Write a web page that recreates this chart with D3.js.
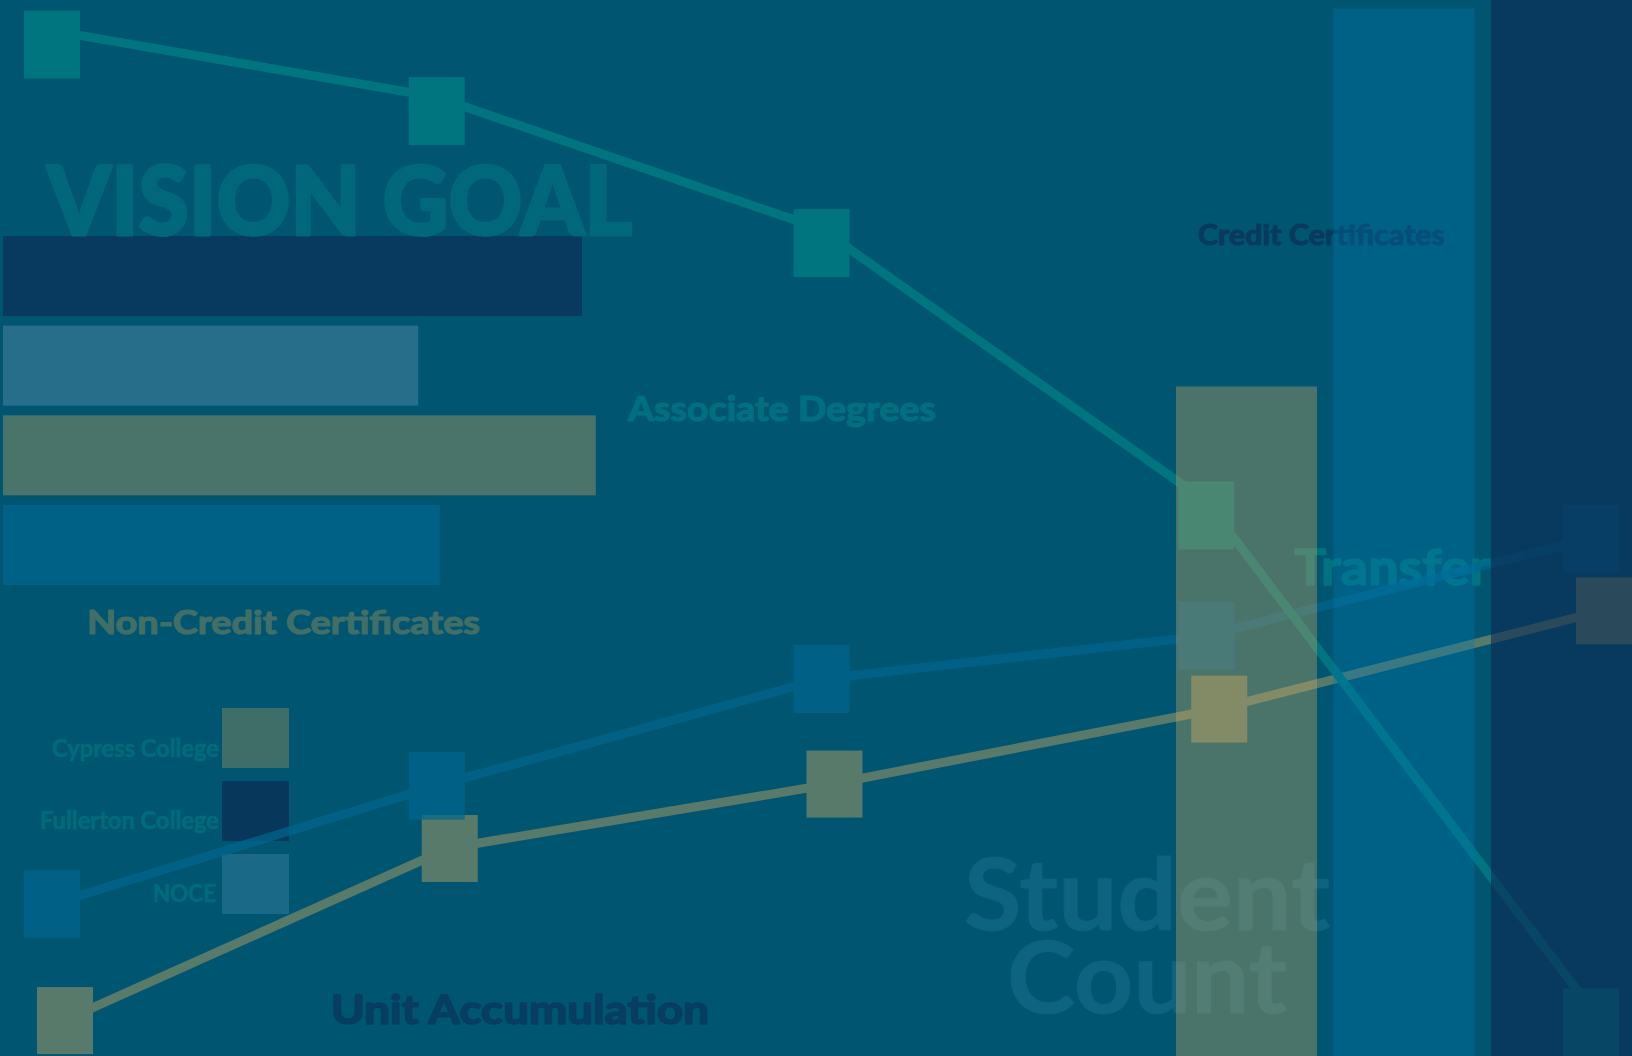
<!DOCTYPE html>
<html><head><meta charset="utf-8">
<script src="https://cdn.jsdelivr.net/npm/d3@7/dist/d3.min.js"></script>
<style>html,body{margin:0;padding:0;background:#005570;overflow:hidden}svg{display:block}</style>
</head><body>
<svg id="chart" width="1632" height="1056"></svg>
<script>
// ---------- DATA ----------
const barCategories = ["Fullerton College", "NOCE", "Cypress College", "District"];
const barValues = [96.5, 69.2, 98.8, 72.8];

const columnCategories = ["Cypress College", "District", "Fullerton College"];
const columnValues = [63.4, 99.2, 100];

const pointCategories = ["P1", "P2", "P3", "P4", "P5"];
const tealValues = [97.1, 90.8, 78.3, 52.5, 4.5];
const blueValues = [14.4, 25.6, 35.7, 39.8, 49.0];
const sageValues = [3.4, 19.7, 25.8, 32.9, 42.2];

const legendLabels = ["Cypress College", "Fullerton College", "NOCE"];

const titleText = "VISION GOAL";
const annotationTexts = ["Associate Degrees", "Credit Certificates", "Transfer",
  "Non-Credit Certificates", "Unit Accumulation"];
const bigTextLines = ["Student", "Count"];

// ---------- SETUP ----------
const W = 1632, H = 1056;
const svg = d3.select("#chart");
const FONT = "Lato, 'Open Sans', 'DejaVu Sans', sans-serif";

svg.append("rect").attr("width", W).attr("height", H).attr("fill", "#005570");

// Horizontal bars
const hx = d3.scaleLinear().domain([0, 100]).range([3, 603]);
const hy = d3.scaleBand().domain(barCategories).range([236, 585]).paddingInner(0.108).paddingOuter(0);
const barColors = ["#073A5E", "#276E8A", "#4A746A", "#006186"];
svg.append("g").selectAll("rect").data(barValues).join("rect")
  .attr("x", hx(0))
  .attr("y", (d, i) => hy(barCategories[i]))
  .attr("width", d => hx(d) - hx(0))
  .attr("height", hy.bandwidth())
  .attr("fill", (d, i) => barColors[i]);

// Text helper
function label(g, txt, x, y, size, fill, len, anchor, weight, sw) {
  const t = g.append("text").attr("x", x).attr("y", y)
    .attr("font-family", FONT).attr("font-size", size)
    .attr("font-weight", weight || 700).attr("fill", fill)
    .attr("text-anchor", anchor || "start").text(txt);
  if (sw) t.attr("stroke", fill).attr("stroke-width", sw).attr("stroke-linejoin", "round");
  if (len) t.attr("textLength", len).attr("lengthAdjust", "spacingAndGlyphs");
  return t;
}
const tg = svg.append("g");
label(tg, titleText, 47, 235, 95, "#00687A", 585, "start", 900, 3);
label(tg, annotationTexts[0], 628, 421, 35, "#006F80", 308, "start", 700, 1.2);
label(tg, annotationTexts[1], 1198, 245, 28, "#083A5E", 247, "start", 700, 1);
label(tg, annotationTexts[2], 1294, 585, 50, "#00737F", 196, "start", 700, 1.5);
label(tg, annotationTexts[3], 87, 634, 33, "#416F68", 393, "start", 700, 1.2);
label(tg, annotationTexts[4], 331, 1024, 40, "#063D60", 378, "start", 700, 1.5);

// Two-line "Student Count" as one text element
const big = tg.append("text")
  .attr("font-family", FONT).attr("font-size", 100).attr("font-weight", 700)
  .attr("fill", "#0D6480").attr("stroke", "#0D6480").attr("stroke-width", 1);
big.append("tspan").attr("x", 964).attr("y", 930)
  .attr("textLength", 366).attr("lengthAdjust", "spacingAndGlyphs").text(bigTextLines[0]);
big.append("tspan").attr("x", 1007).attr("y", 1013)
  .attr("textLength", 280).attr("lengthAdjust", "spacingAndGlyphs").text(bigTextLines[1]);

// Legend
const legendColors = ["#3F6E68", "#07385B", "#1A6A87"];
const legendTops = [708, 781, 854];
const lg = svg.append("g");
legendLabels.forEach((name, i) => {
  lg.append("rect").attr("x", 222).attr("y", legendTops[i]).attr("width", 67).attr("height", 60)
    .attr("fill", legendColors[i]);
});
label(lg, legendLabels[0], 219, 757, 24, "#006B7A", 167, "end", 700, 0.6);
label(lg, legendLabels[1], 219, 829, 24, "#006B7A", 179, "end", 700, 0.6);
label(lg, legendLabels[2], 216, 902, 24, "#006B7A", 63, "end", 700, 0.6);

// Line series
const px = d3.scalePoint().domain(pointCategories).range([52, 1591]);
const py = d3.scaleLinear().domain([0, 100]).range([H, 0]);
const series = [
  {values: sageValues, color: "#587A6A", dx: 13, top: -33, w: 56, h: 67, sw: 9, op: 1},
  {values: blueValues, color: "#00668F", dx: 0, top: -34, w: 56, h: 68, sw: 9, op: 0.7},
  {values: tealValues, color: "#00747F", dx: 0, top: -20, w: 56, h: 68, sw: 9, op: 1}
];
series.forEach(s => {
  const g = svg.append("g").attr("opacity", s.op);
  const line = d3.line().x((d, i) => px(pointCategories[i]) + s.dx).y(d => py(d));
  g.append("path").attr("d", line(s.values)).attr("fill", "none")
    .attr("stroke", s.color).attr("stroke-width", s.sw);
  g.selectAll("rect").data(s.values).join("rect")
    .attr("x", (d, i) => px(pointCategories[i]) + s.dx - s.w / 2)
    .attr("y", d => py(d) + s.top)
    .attr("width", s.w).attr("height", s.h)
    .attr("fill", s.color);
});

// Vertical columns (translucent, on top)
const cx = d3.scaleBand().domain(columnCategories).range([1176, 1632]).paddingInner(0.105).paddingOuter(0);
const cy = d3.scaleLinear().domain([0, 100]).range([H, 0]);
const colFill = ["rgb(211,173,95)", "rgb(0,121,179)", "rgb(12,40,82)"];
const colOp = [0.35, 0.33, 0.6];
svg.append("g").selectAll("rect").data(columnValues).join("rect")
  .attr("x", (d, i) => cx(columnCategories[i]))
  .attr("y", d => cy(d))
  .attr("width", cx.bandwidth())
  .attr("height", d => cy(0) - cy(d))
  .attr("fill", (d, i) => colFill[i])
  .attr("fill-opacity", (d, i) => colOp[i]);
</script>
</body></html>
